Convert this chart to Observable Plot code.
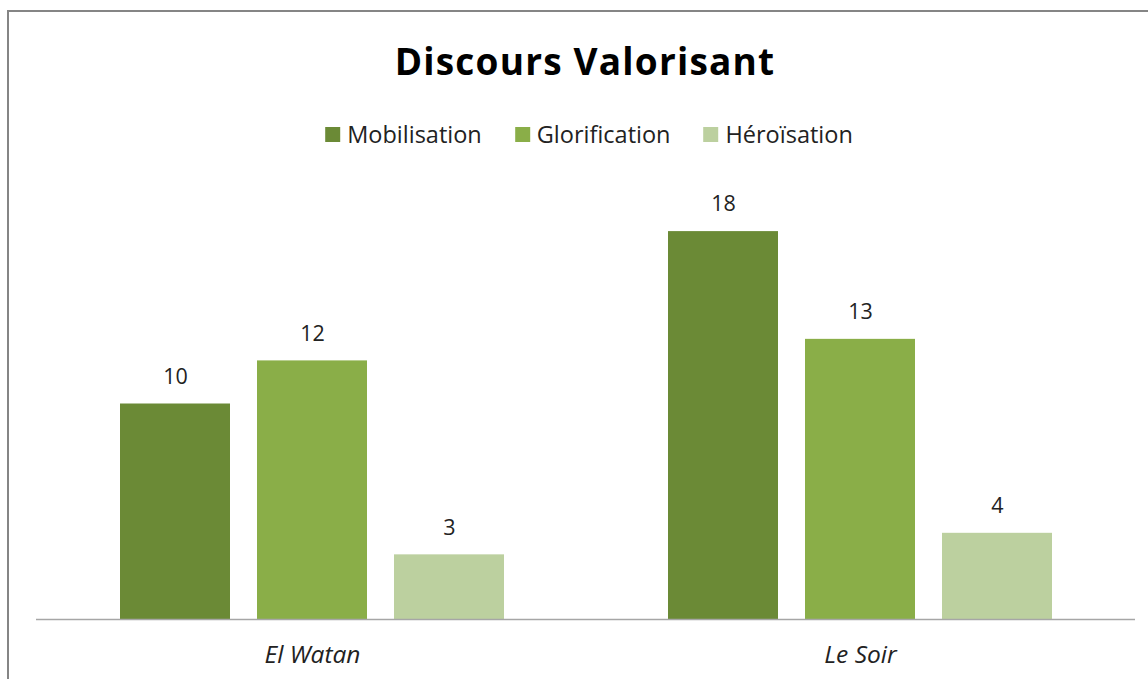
<!DOCTYPE html>
<html>
<head>
<meta charset="utf-8">
<script src="https://cdn.jsdelivr.net/npm/d3@7"></script>
<script src="https://cdn.jsdelivr.net/npm/@observablehq/plot@0.6"></script>
<style>
  html, body { margin: 0; padding: 0; background: #fff; }
  body { width: 1148px; height: 679px; position: relative; overflow: hidden; font-family: "Open Sans", sans-serif; color: #222; }
  #border { position: absolute; left: 7px; top: 10px; width: 1200px; height: 700px; border: 2px solid #858585; box-sizing: border-box; }
  #title { position: absolute; left: 585px; top: 39px; transform: translateX(-50%); font-size: 37px; letter-spacing: 1.2px; font-weight: 700; color: #000; white-space: nowrap; line-height: 1.2; }
  #legend { position: absolute; left: 589px; top: 118px; transform: translateX(-50%); display: flex; gap: 33px; font-size: 23.5px; white-space: nowrap; color: #222; }
  #legend .item { display: flex; align-items: center; gap: 7px; }
  #legend .sw { width: 15px; height: 15px; display: inline-block; }
  #chart { position: absolute; left: 0; top: 160px; }
</style>
</head>
<body>
<div id="border"></div>
<div id="title"></div>
<div id="legend"></div>
<div id="chart"></div>
<script>
const titleText = "Discours Valorisant";
const groups = ["El Watan", "Le Soir"];
const series = ["Mobilisation", "Glorification", "Héroïsation"];
const colors = ["#6B8A36", "#8AAE48", "#BCD09F"];
const elWatan = [10, 12, 3];
const leSoir = [18, 13, 4];
const valuesByGroup = [elWatan, leSoir];

document.getElementById("title").textContent = titleText;
const legend = document.getElementById("legend");
series.forEach((s, i) => {
  const it = document.createElement("div");
  it.className = "item";
  it.innerHTML = `<span class="sw" style="background:${colors[i]}"></span><span>${s}</span>`;
  legend.appendChild(it);
});

// Build table; a spacer key separates the two groups
const data = [];
groups.forEach((g, gi) => {
  series.forEach((s, si) => {
    data.push({key: g + "|" + s, group: g, series: s, value: valuesByGroup[gi][si]});
  });
});
const domain = [];
groups.forEach((g, gi) => {
  if (gi > 0) domain.push("spacer" + gi);
  series.forEach(s => domain.push(g + "|" + s));
});
const labelFor = new Map(groups.map(g => [g + "|" + series[1], g]));

const chart = Plot.plot({
  width: 1148,
  height: 519,
  marginTop: 28,
  marginBottom: 60,
  marginLeft: 36,
  marginRight: 13,
  style: {fontFamily: "'Open Sans', sans-serif", background: "transparent"},
  x: {domain, range: [91.5, 1079.7], padding: 0.2, axis: null},
  y: {domain: [0, 20], axis: null},
  color: {domain: series, range: colors},
  marks: [
    Plot.barY(data, {x: "key", y: "value", fill: "series"}),
    Plot.text(data, {x: "key", y: "value", text: d => String(d.value), dy: -27, fontSize: 21.5, fill: "#222"}),
    Plot.ruleY([0], {stroke: "#a6a6a6", strokeWidth: 1.5}),
    Plot.axisX({tickSize: 0, tickPadding: 26, tickFormat: k => labelFor.get(k) ?? "", fontSize: 24.5, fontStyle: "italic", fill: "#222", label: null}),
  ]
});
document.getElementById("chart").appendChild(chart);
</script>
</body>
</html>
